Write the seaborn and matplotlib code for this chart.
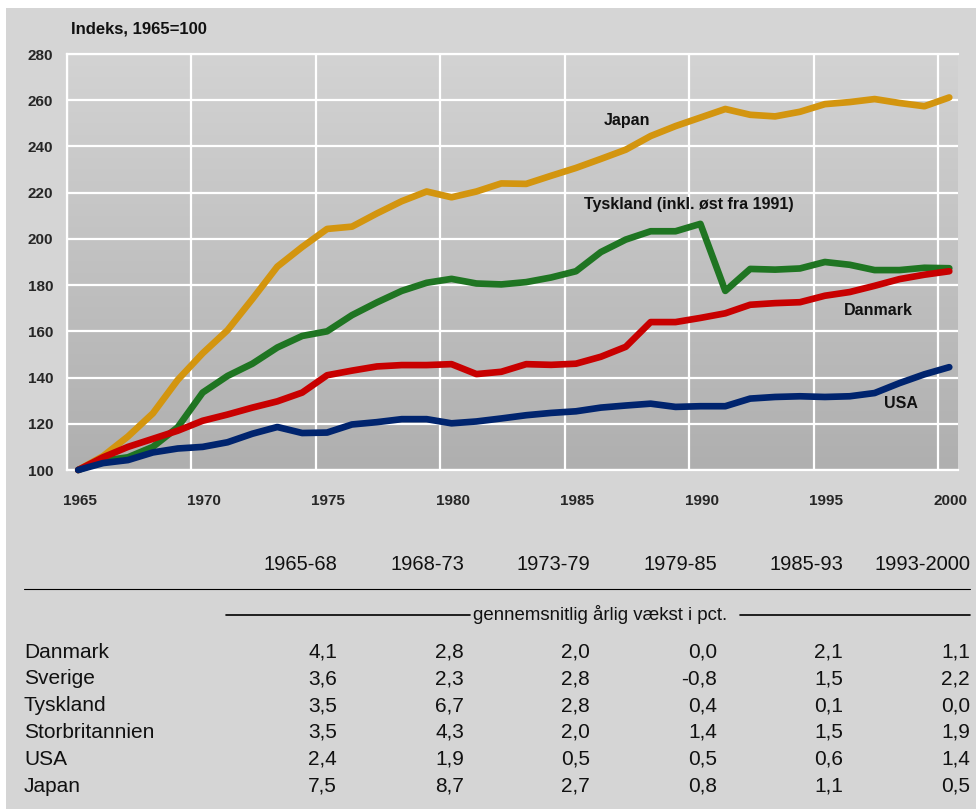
import numpy as np
import pandas as pd
import matplotlib
matplotlib.use("Agg")
import matplotlib.pyplot as plt
import seaborn as sns
from matplotlib.colors import LinearSegmentedColormap
from matplotlib.patches import Rectangle

# index, 1965=100
years = np.arange(1965, 2001)
japan = [100, 106, 114.5, 124.5, 139, 150.5, 160.5, 174, 188, 196.5, 204.3,
         205.3, 211, 216.3, 220.5, 218, 220.5, 224, 223.8, 227.3, 230.7,
         234.6, 238.6, 244.5, 248.8, 252.5, 256.2, 253.7, 253, 255, 258.3,
         259.2, 260.5, 258.8, 257.4, 261.2]
tyskland = [100, 104, 105.5, 110, 118.5, 133.5, 140.7, 146, 153, 158, 160,
            167, 172.5, 177.5, 181, 182.7, 180.7, 180.3, 181.3, 183.3, 186,
            194.3, 199.7, 203.3, 203.3, 206.5, 177.5, 187, 186.7, 187.2, 190,
            188.8, 186.5, 186.5, 187.5, 187.3]
danmark = [100, 105.5, 110, 113.5, 117, 121.3, 124, 127, 129.7, 133.5, 141,
           143, 144.8, 145.4, 145.4, 145.8, 141.5, 142.5, 145.8, 145.5, 146,
           149, 153.3, 164, 164, 165.8, 167.8, 171.5, 172.2, 172.6, 175.4,
           177, 179.7, 182.6, 184.5, 186]
usa = [100, 103, 104.3, 107.6, 109.3, 110, 112, 115.7, 118.6, 116, 116.2,
       119.7, 120.7, 122, 122, 120.2, 121, 122.3, 123.7, 124.7, 125.4,
       127, 127.9, 128.7, 127.3, 127.6, 127.6, 130.9, 131.6, 131.9, 131.6,
       131.9, 133.3, 137.6, 141.4, 144.5]

series_names = ["Japan", "Tyskland", "Danmark", "USA"]
series_colors = ["#d3950f", "#1f7522", "#c80000", "#00246e"]
series_labels = ["Japan", "Tyskland (inkl. øst fra 1991)", "Danmark", "USA"]
label_pos = [(1987.5, 251.3), (1990.0, 214.9), (1997.6, 169.0), (1998.5, 128.6)]

# table
periods = ["1965-68", "1968-73", "1973-79", "1979-85", "1985-93", "1993-2000"]
countries = ["Danmark", "Sverige", "Tyskland", "Storbritannien", "USA", "Japan"]
growth = [
    [4.1, 2.8, 2.0, 0.0, 2.1, 1.1],
    [3.6, 2.3, 2.8, -0.8, 1.5, 2.2],
    [3.5, 6.7, 2.8, 0.4, 0.1, 0.0],
    [3.5, 4.3, 2.0, 1.4, 1.5, 1.9],
    [2.4, 1.9, 0.5, 0.5, 0.6, 1.4],
    [7.5, 8.7, 2.7, 0.8, 1.1, 0.5],
]

df = pd.DataFrame({
    "year": np.tile(years + 0.45, 4),
    "value": japan + tyskland + danmark + usa,
    "land": np.repeat(series_names, len(years)),
})

sns.set_style("white")
plt.rcParams["font.family"] = ["Liberation Sans", "DejaVu Sans"]

W, H = 976, 809
BG = "#d5d5d5"
fig = plt.figure(figsize=(W / 100, H / 100), dpi=100, facecolor=BG)

# pixel overlay for background strips and the table
tab = fig.add_axes([0, 0, 1, 1], zorder=0)
tab.set_xlim(0, W)
tab.set_ylim(H, 0)
tab.axis("off")
tab.add_patch(Rectangle((0, 0), W, 8, color="white", lw=0))
tab.add_patch(Rectangle((0, 0), 6, H, color="white", lw=0))

# chart
x0, x1, y0, y1 = 67, 958, 54, 470
ax = fig.add_axes([x0 / W, 1 - y1 / H, (x1 - x0) / W, (y1 - y0) / H], zorder=1)
xmin, xmax = 1965, 2000.8
grad = LinearSegmentedColormap.from_list("g", ["#d3d3d3", "#afafaf"])
ax.imshow(np.linspace(0, 1, 256).reshape(-1, 1), cmap=grad, aspect="auto",
          extent=[xmin, xmax, 100, 280], zorder=0)

sns.lineplot(data=df, x="year", y="value", hue="land", hue_order=series_names,
             palette=series_colors, linewidth=4.8, legend=False, ax=ax,
             solid_capstyle="round", solid_joinstyle="round", clip_on=False,
             zorder=3)

ax.set_xlim(xmin, xmax)
ax.set_ylim(100, 280)
ax.set_xticks(np.arange(1965, 2001, 5))
ax.set_xticklabels([])
ax.set_xticks(np.arange(1965, 2001, 5) + 0.5, minor=True)
ax.set_xticklabels([str(y) for y in range(1965, 2001, 5)], minor=True,
                   fontweight="bold", fontsize=11)
ax.set_yticks(np.arange(100, 281, 20))
ax.set_yticklabels([str(v) for v in range(100, 281, 20)],
                   fontweight="bold", fontsize=11)
ax.tick_params(axis="both", which="both", length=0)
ax.tick_params(axis="x", which="minor", pad=17)
ax.tick_params(axis="y", pad=10)
ax.grid(True, which="major", color="white", linewidth=1.6)
ax.set_axisbelow(False)
for line in ax.get_xgridlines() + ax.get_ygridlines():
    line.set_zorder(1)
ax.set_xlabel("")
ax.set_ylabel("")
for side in ["top", "bottom", "left"]:
    ax.spines[side].set_color("white")
    ax.spines[side].set_linewidth(1.6)
    ax.spines[side].set_zorder(1)
ax.spines["right"].set_visible(False)

for txt, (lx, ly) in zip(series_labels, label_pos):
    ax.text(lx, ly, txt, ha="center", va="center", fontsize=11.5,
            fontweight="bold", color="#111111", zorder=4)

fig.text(71 / W, 1 - 29 / H, "Indeks, 1965=100", ha="left", va="center",
         fontsize=12, fontweight="bold", color="#111111")

# table below chart
col_right = [337, 464, 590, 717, 843, 970]
for xr, p in zip(col_right, periods):
    tab.text(xr, 565, p, ha="right", va="center", fontsize=14.5, color="#111111")
tab.plot([24, 970], [589, 589], color="black", lw=0.8)

tab.plot([226, 470], [615, 615], color="black", lw=1.2)
tab.plot([740, 970], [615, 615], color="black", lw=1.2)
tab.text(600, 614, "gennemsnitlig årlig vækst i pct.", ha="center", va="center",
         fontsize=13.4, color="#111111")

for i, (land, row) in enumerate(zip(countries, growth)):
    ry = 652 + 26.8 * i
    tab.text(24, ry, land, ha="left", va="center", fontsize=15, color="#111111")
    for xr, v in zip(col_right, row):
        tab.text(xr, ry, f"{v:.1f}".replace(".", ","), ha="right", va="center",
                 fontsize=15, color="#111111")

fig.savefig("out.png", dpi=100, facecolor=BG)
